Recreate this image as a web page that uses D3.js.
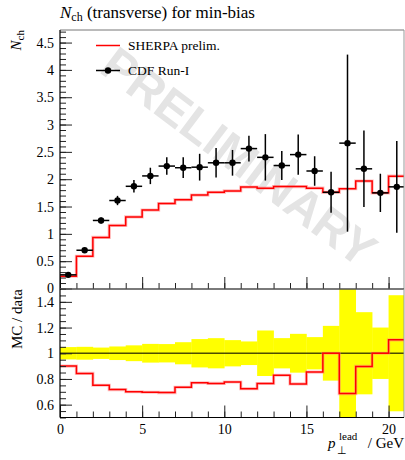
<!DOCTYPE html>
<html>
<head>
<meta charset="utf-8">
<script src="https://cdn.jsdelivr.net/npm/d3@7"></script>
<style>
  body { margin: 0; background: #fff; }
  svg text { font-family: "Liberation Serif", "Times New Roman", serif; fill: #000; }
  .tick line { stroke: #222; }
  .tick text { font-size: 14px; }
</style>
</head>
<body>
<script>
// bins in p_T lead (GeV)
var binLow  = [0, 1, 2, 3, 4, 5, 6, 7, 8, 9, 10, 11, 12, 13, 14, 15, 16, 17, 18, 19, 20];
var binHigh = [1, 2, 3, 4, 5, 6, 7, 8, 9, 10, 11, 12, 13, 14, 15, 16, 17, 18, 19, 20, 21];

var mcValues   = [0.225, 0.59, 0.935, 1.155, 1.31, 1.435, 1.555, 1.625, 1.71, 1.76, 1.785,
                  1.855, 1.835, 1.865, 1.865, 1.835, 1.76, 1.825, 1.965, 1.75, 2.055];
var dataValues = [0.25, 0.70, 1.245, 1.61, 1.87, 2.06, 2.24, 2.21, 2.22, 2.30, 2.30,
                  2.56, 2.40, 2.25, 2.45, 2.15, 1.76, 2.66, 2.19, 1.75, 1.86];
var dataErrors = [0.012, 0.035, 0.055, 0.085, 0.115, 0.15, 0.16, 0.19, 0.245, 0.27, 0.235,
                  0.235, 0.425, 0.265, 0.37, 0.27, 0.375, 1.62, 0.70, 0.35, 0.84];

var mainTicks  = [0, 0.5, 1, 1.5, 2, 2.5, 3, 3.5, 4, 4.5];
var ratioTicks = [0.6, 0.8, 1, 1.2, 1.4];
var xTicks     = [0, 5, 10, 15, 20];

var width = 405, height = 460;
var plotL = 60, plotR = 404, plotT = 30, plotM = 289, plotB = 417.5;

var svg = d3.select("body").append("svg")
    .attr("width", width)
    .attr("height", height);

var xScale = d3.scaleLinear().domain([0, 21]).range([plotL, 405]);
var yMain  = d3.scaleLinear().domain([0, 4.73]).range([288.5, plotT]);
var yRatio = d3.scaleLinear().domain([0.5, 1.5]).range([plotB, plotM]);

var bins = binLow.map(function(d, i) {
  return { lo: d, hi: binHigh[i], mc: mcValues[i], val: dataValues[i], err: dataErrors[i] };
});

svg.append("clipPath").attr("id", "clipMain")
  .append("rect").attr("x", plotL).attr("y", plotT).attr("width", plotR - plotL).attr("height", plotM - plotT);
svg.append("clipPath").attr("id", "clipRatio")
  .append("rect").attr("x", plotL).attr("y", plotM).attr("width", plotR - plotL).attr("height", plotB - plotM);

// watermark
svg.append("text")
    .attr("transform", "translate(239,157) rotate(37)")
    .attr("text-anchor", "middle")
    .attr("dominant-baseline", "central")
    .style("font-family", "'Liberation Sans', Arial, sans-serif")
    .style("font-weight", "bold")
    .style("font-size", "48px")
    .style("fill", "#e4e4e4")
    .text("PRELIMINARY");

// step line helper
function stepPath(yScale, getY) {
  var pts = [];
  bins.forEach(function(b) {
    pts.push([xScale(b.lo), yScale(getY(b))]);
    pts.push([xScale(b.hi), yScale(getY(b))]);
  });
  return d3.line()(pts);
}

// ---- main panel ----
var gMain = svg.append("g").attr("clip-path", "url(#clipMain)");

gMain.append("path")
    .attr("d", stepPath(yMain, function(b) { return b.mc; }))
    .attr("fill", "none").attr("stroke", "#ff8080").attr("stroke-opacity", 0.5).attr("stroke-width", 3.2);
gMain.append("path")
    .attr("d", stepPath(yMain, function(b) { return b.mc; }))
    .attr("fill", "none").attr("stroke", "#ff0000").attr("stroke-width", 1.5);

var pts = gMain.selectAll(".pt").data(bins).enter().append("g").attr("class", "pt");
pts.append("line")
    .attr("x1", function(d) { return xScale(d.lo); })
    .attr("x2", function(d) { return xScale(d.hi); })
    .attr("y1", function(d) { return yMain(d.val); })
    .attr("y2", function(d) { return yMain(d.val); })
    .attr("stroke", "#000").attr("stroke-width", 1.5);
pts.append("line")
    .attr("x1", function(d) { return xScale((d.lo + d.hi) / 2); })
    .attr("x2", function(d) { return xScale((d.lo + d.hi) / 2); })
    .attr("y1", function(d) { return yMain(d.val - d.err); })
    .attr("y2", function(d) { return yMain(d.val + d.err); })
    .attr("stroke", "#000").attr("stroke-width", 1.5);
pts.append("circle")
    .attr("cx", function(d) { return xScale((d.lo + d.hi) / 2); })
    .attr("cy", function(d) { return yMain(d.val); })
    .attr("r", 3.2);

// ---- ratio panel ----
var gRatio = svg.append("g").attr("clip-path", "url(#clipRatio)");

gRatio.selectAll(".band").data(bins).enter().append("rect")
    .attr("x", function(d) { return xScale(d.lo); })
    .attr("width", function(d) { return xScale(d.hi) - xScale(d.lo) + 0.3; })
    .attr("y", function(d) { return yRatio(1 + d.err / d.val); })
    .attr("height", function(d) { return yRatio(1 - d.err / d.val) - yRatio(1 + d.err / d.val); })
    .attr("fill", "#ffff00");

gRatio.append("line")
    .attr("x1", plotL).attr("x2", plotR)
    .attr("y1", yRatio(1)).attr("y2", yRatio(1))
    .attr("stroke", "#000").attr("stroke-opacity", 0.7).attr("stroke-width", 1.5);

gRatio.append("path")
    .attr("d", stepPath(yRatio, function(b) { return b.mc / b.val; }))
    .attr("fill", "none").attr("stroke", "#ff8080").attr("stroke-opacity", 0.5).attr("stroke-width", 3.2);
gRatio.append("path")
    .attr("d", stepPath(yRatio, function(b) { return b.mc / b.val; }))
    .attr("fill", "none").attr("stroke", "#ff0000").attr("stroke-width", 1.5);

// ---- axes ----
function cleanAxis(g) {
  g.attr("font-family", null).attr("font-size", null);
  g.selectAll("text").style("font-family", "'Liberation Serif', serif");
  g.select(".domain").remove();
}

function addY(scale, major, minorStep, lo, hi, fmt) {
  var minor = d3.range(lo, hi + 1e-9, minorStep);
  svg.append("g").attr("transform", "translate(" + plotL + ",0)")
    .call(d3.axisLeft(scale).tickValues(minor).tickSize(-6).tickFormat(""))
    .call(cleanAxis);
  svg.append("g").attr("transform", "translate(" + plotL + ",0)")
    .call(d3.axisLeft(scale).tickValues(major).tickSize(-12).tickPadding(6).tickFormat(fmt))
    .call(cleanAxis);
}
addY(yMain, mainTicks, 0.1, 0, 4.7, d3.format("~g"));
addY(yRatio, ratioTicks, 0.05, 0.5, 1.5, d3.format("~g"));

function addX(y, labels) {
  var minor = d3.range(0, 21, 1);
  svg.append("g").attr("transform", "translate(0," + y + ")")
    .call(d3.axisBottom(xScale).tickValues(minor).tickSize(-6).tickFormat(""))
    .call(cleanAxis);
  svg.append("g").attr("transform", "translate(0," + y + ")")
    .call(d3.axisBottom(xScale).tickValues(xTicks).tickSize(-12).tickPadding(7)
      .tickFormat(labels ? d3.format("d") : ""))
    .call(cleanAxis);
}
addX(plotM, false);
addX(plotB, true);

// frames
[[plotT, plotM], [plotM, plotB]].forEach(function(p) {
  svg.append("line").attr("x1", plotL).attr("x2", plotR).attr("y1", p[0]).attr("y2", p[0])
    .attr("stroke", "#777").attr("stroke-width", 1);
  svg.append("line").attr("x1", plotR).attr("x2", plotR).attr("y1", p[0]).attr("y2", p[1])
    .attr("stroke", "#999").attr("stroke-width", 1);
  svg.append("line").attr("x1", plotL).attr("x2", plotL).attr("y1", p[0]).attr("y2", p[1])
    .attr("stroke", "#000").attr("stroke-width", 1.2);
  svg.append("line").attr("x1", plotL).attr("x2", plotR).attr("y1", p[1]).attr("y2", p[1])
    .attr("stroke", "#000").attr("stroke-width", 1.2);
});

// ---- texts ----
var title = svg.append("text").attr("x", 60).attr("y", 18).style("font-size", "17px");
title.append("tspan").style("font-style", "italic").text("N");
title.append("tspan").attr("dy", 3).style("font-size", "12px").text("ch");
title.append("tspan").attr("dy", -3).text(" (transverse) for min-bias");

var yl = svg.append("text").attr("transform", "translate(21,30) rotate(-90)")
    .attr("text-anchor", "end").style("font-size", "15px");
yl.append("tspan").style("font-style", "italic").text("N");
yl.append("tspan").attr("dy", 3).style("font-size", "11px").text("ch");

svg.append("text").attr("transform", "translate(22,289) rotate(-90)")
    .attr("text-anchor", "end").style("font-size", "15px").text("MC / data");

svg.append("text").attr("x", 404).attr("y", 448).attr("text-anchor", "end")
    .style("font-size", "15px").text("/ GeV");
svg.append("text").attr("x", 328).attr("y", 448).style("font-size", "15px")
    .style("font-style", "italic").text("p");
svg.append("text").attr("x", 339).attr("y", 440).style("font-size", "11px").text("lead");
svg.append("text").attr("x", 337).attr("y", 454).style("font-size", "11px").text("\u22a5");

// legend
svg.append("line").attr("x1", 96).attr("x2", 120).attr("y1", 45.5).attr("y2", 45.5)
    .attr("stroke", "#ff0000").attr("stroke-width", 1.5);
svg.append("text").attr("x", 128).attr("y", 50).style("font-size", "13.5px").text("SHERPA prelim.");
svg.append("line").attr("x1", 96).attr("x2", 120).attr("y1", 70.5).attr("y2", 70.5)
    .attr("stroke", "#000").attr("stroke-width", 1.5);
svg.append("circle").attr("cx", 108).attr("cy", 70.5).attr("r", 3.2);
svg.append("text").attr("x", 128).attr("y", 75).style("font-size", "13.5px").text("CDF Run-I");
</script>
</body>
</html>
